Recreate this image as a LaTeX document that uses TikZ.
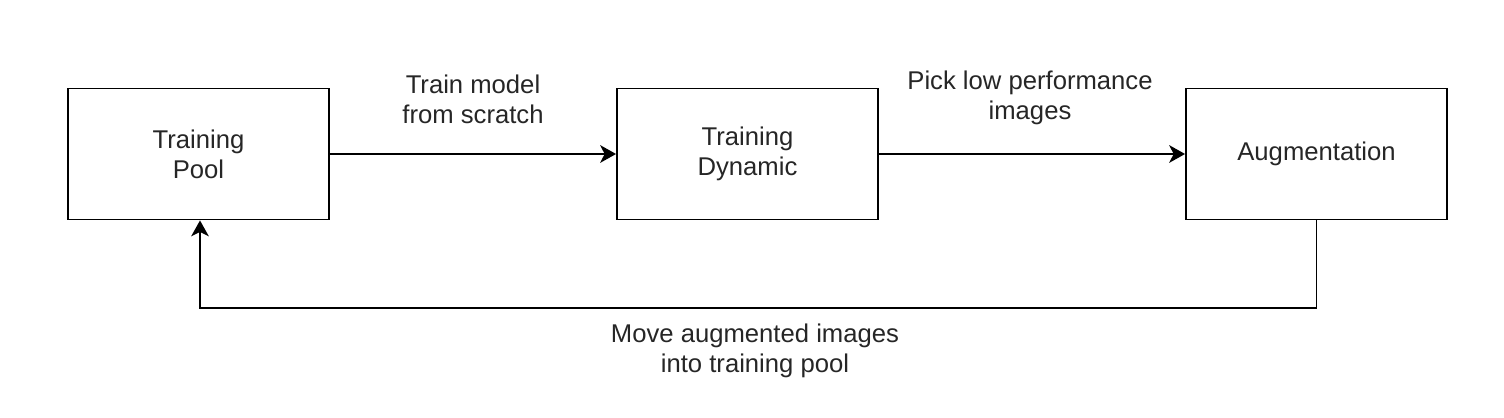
\documentclass[tikz,border=0pt]{standalone}
\usepackage{fontspec}
\setmainfont{Liberation Sans}
\usetikzlibrary{arrows.meta}
\begin{document}
\begin{tikzpicture}[x=0.02cm,y=-0.02cm,
      stagebox/.style={draw,line width=1.1pt,minimum width=5.22cm,minimum height=2.62cm,align=center},
      flowlabel/.style={align=center},
      flow/.style={line width=1.1pt,-{Stealth[length=9pt,width=10pt,inset=2.5pt]}},
      every node/.style={font=\fontsize{14.6}{17.2}\selectfont,text=black!85}]
      \useasboundingbox (0,0) rectangle (1504,418);
      \node[stagebox] (pool) at (198.5,154) {Training\\Pool};
      \node[stagebox] (dyn) at (747.5,154) {Training\\Dynamic};
      \node[stagebox] (aug) at (1316.5,154) {Augmentation};
      \coordinate (bendR) at (1316.5,308);
      \coordinate (bendL) at (200,308);
      \draw[flow] (pool) -- (dyn);
      \draw[flow] (dyn) -- (aug);
      \draw[flow] (aug.south) -- (bendR) -- (bendL) -- (pool.south-|bendL);
      \node[flowlabel] (lblA) at (473,99) {Train model\\from scratch};
      \node[flowlabel] (lblB) at (1030,98) {Pick low performance\\images};
      \node[flowlabel] (lblC) at (755,351) {Move augmented images\\into training pool};
\end{tikzpicture}
\end{document}
